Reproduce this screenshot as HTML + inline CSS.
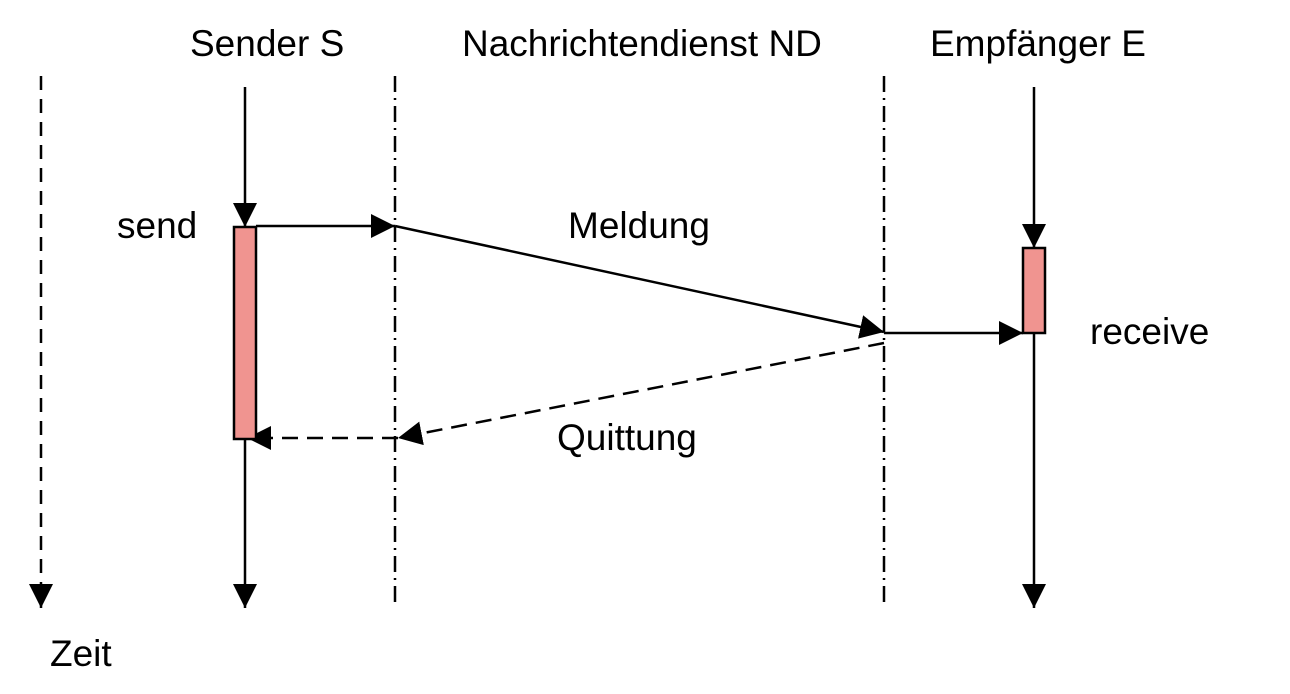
<!DOCTYPE html>
<html><head><style>
body{margin:0;background:#fff;}
svg{display:block;}
text{font-family:"Liberation Sans",sans-serif;font-size:37px;fill:#000;}
</style></head><body>
<svg width="1290" height="694" viewBox="0 0 1290 694" xmlns="http://www.w3.org/2000/svg">
<defs>
<marker id="a" markerWidth="24" markerHeight="24" refX="24" refY="12" orient="auto" markerUnits="userSpaceOnUse">
<path d="M0,0 L24,12 L0,24 Z" fill="#000"/></marker>
</defs>
<text x="190" y="56">Sender S</text>
<text x="462" y="56">Nachrichtendienst ND</text>
<text x="930" y="56">Empfänger E</text>
<text x="117" y="238">send</text>
<text x="568" y="238">Meldung</text>
<text x="1090" y="344">receive</text>
<text x="557" y="450">Quittung</text>
<text x="50" y="666">Zeit</text>
<g stroke="#000" stroke-width="2.5" fill="none">
<line x1="41" y1="76" x2="41" y2="608" stroke-dasharray="14,9" marker-end="url(#a)"/>
<line x1="395" y1="76" x2="395" y2="608" stroke-dasharray="16,6,2,6"/>
<line x1="884" y1="76" x2="884" y2="608" stroke-dasharray="16,6,2,6"/>
<line x1="245" y1="87" x2="245" y2="227" marker-end="url(#a)"/>
<line x1="245" y1="439" x2="245" y2="608" marker-end="url(#a)"/>
<line x1="1034" y1="87" x2="1034" y2="248" marker-end="url(#a)"/>
<line x1="1034" y1="333" x2="1034" y2="608" marker-end="url(#a)"/>
<line x1="256" y1="226" x2="395" y2="226" marker-end="url(#a)"/>
<line x1="395" y1="226" x2="884" y2="332" marker-end="url(#a)"/>
<line x1="884" y1="333" x2="1023" y2="333" marker-end="url(#a)"/>
<line x1="884" y1="343" x2="398" y2="438" stroke-dasharray="16,9" marker-end="url(#a)"/>
<line x1="398" y1="438" x2="247" y2="438" stroke-dasharray="16,9" marker-end="url(#a)"/>
</g>
<rect x="234" y="227" width="22" height="212" fill="#f09490" stroke="#000" stroke-width="2.5"/>
<rect x="1023" y="248" width="22" height="85" fill="#f09490" stroke="#000" stroke-width="2.5"/>
</svg>
</body></html>
